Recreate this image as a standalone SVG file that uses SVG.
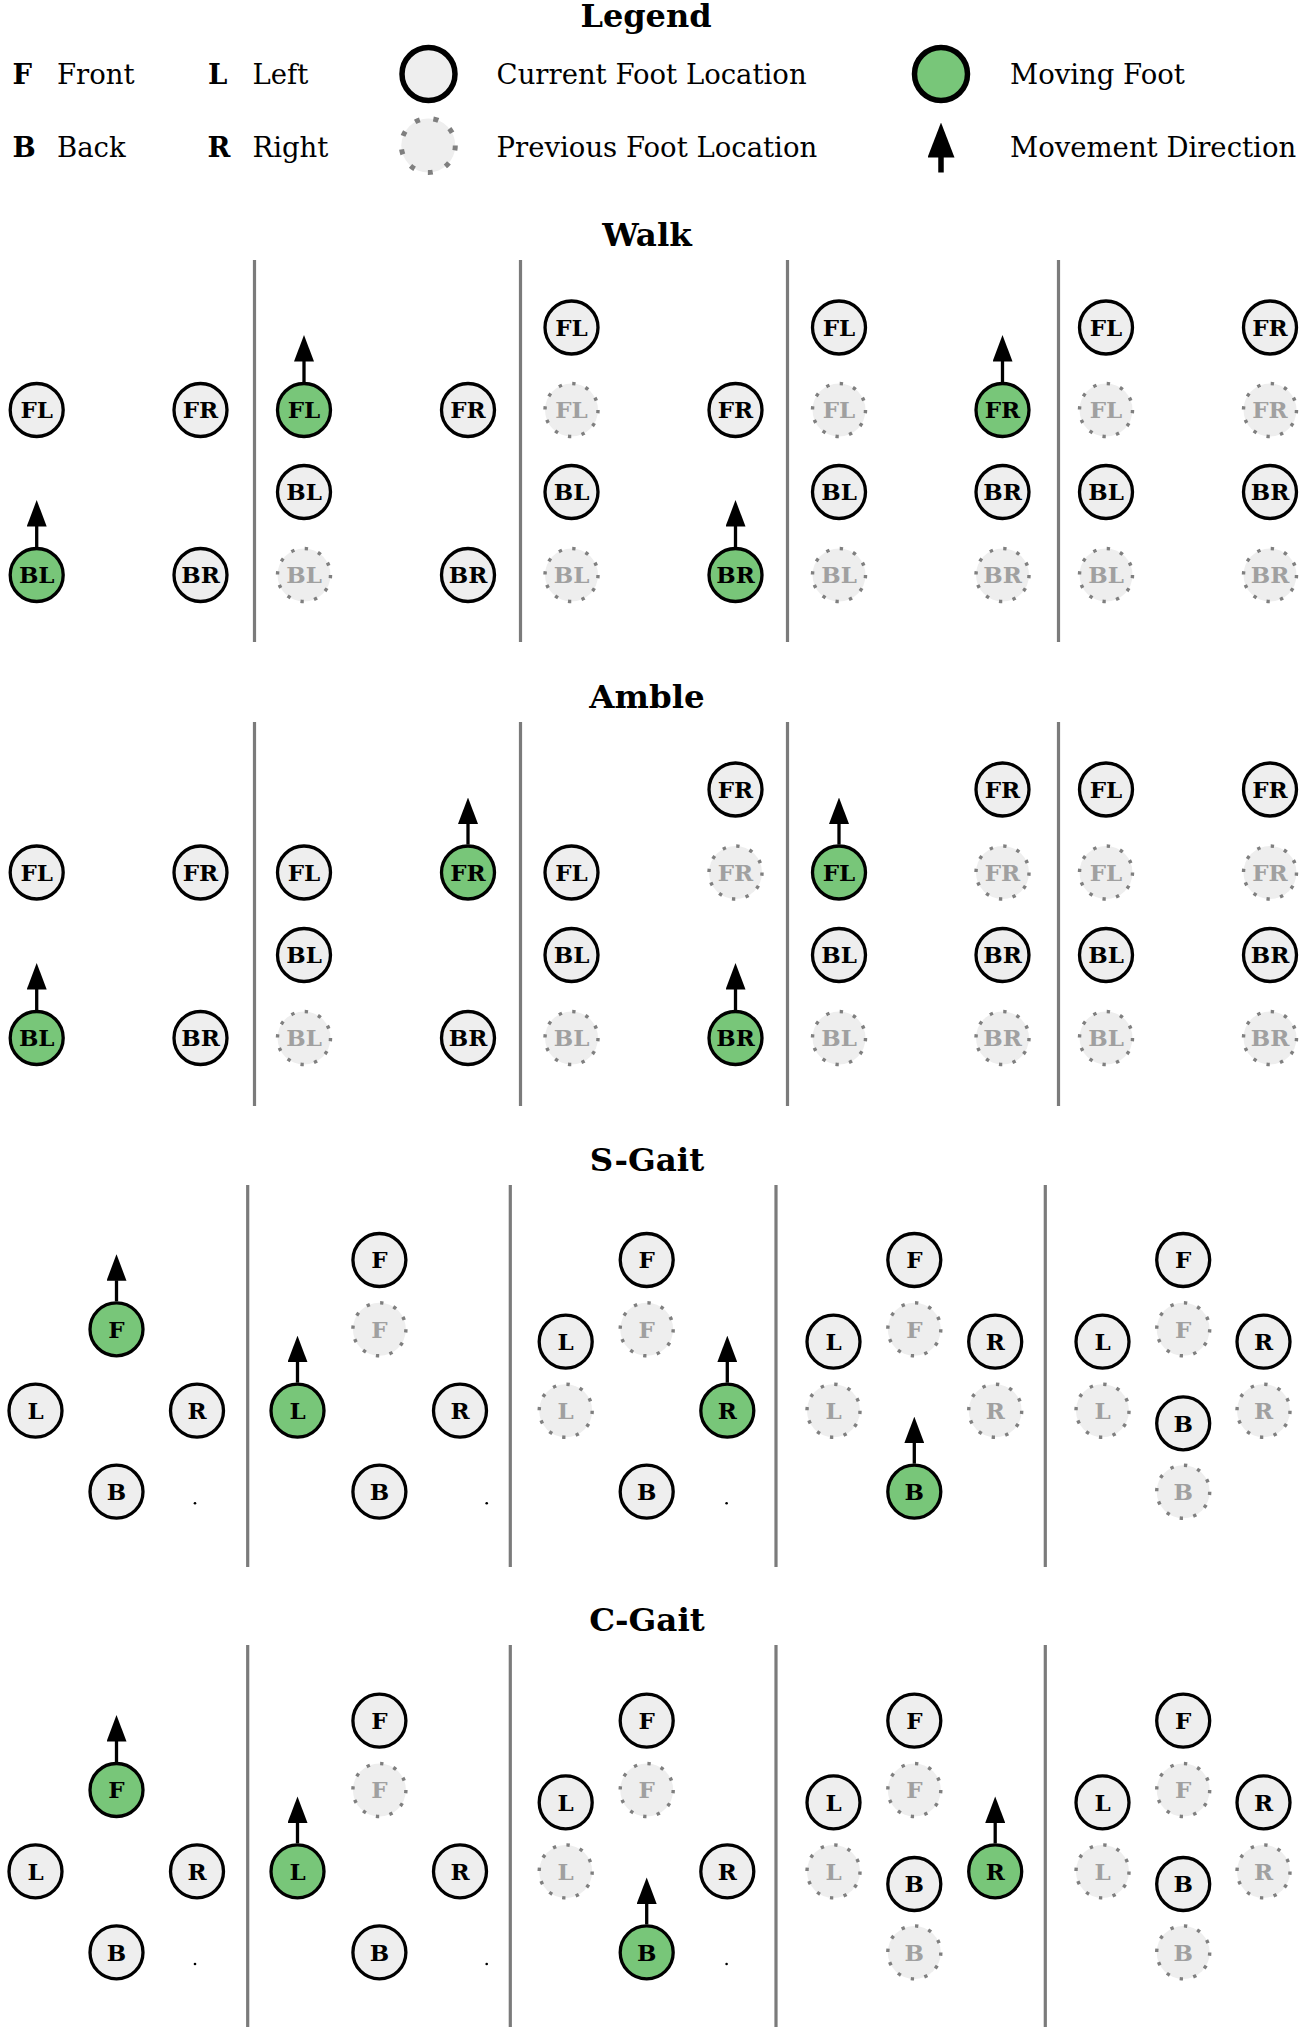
<svg xmlns="http://www.w3.org/2000/svg" width="1303" height="2031" viewBox="0 0 1303 2031">
<defs>
<style>
.cur{fill:#eeeeee;stroke:#000;stroke-width:3.3}
.mov{fill:#78c679;stroke:#000;stroke-width:3.3}
.prev{fill:#eeeeee;stroke:#7f7f7f;stroke-width:3.4;stroke-dasharray:3.4 10.47}
.lbl{font-family:"DejaVu Serif",serif;font-weight:bold;font-size:23px;text-anchor:middle;fill:#000;transform:translate(0px,0.8px)}
.lp{fill:#a0a0a0}
.title{font-family:"DejaVu Serif",serif;font-weight:bold;font-size:32.5px;text-anchor:middle;fill:#000}
.leg{font-family:"DejaVu Serif",serif;font-size:27.5px;fill:#000}
.legb{font-family:"DejaVu Serif",serif;font-weight:bold;font-size:27.5px;fill:#000}
.div{stroke:#7b7b7b;stroke-width:3.2}
.arr{stroke:#000;stroke-width:3.3;marker-end:url(#head)}
</style>
<marker id="head" viewBox="0 0 26.5 20" refX="0.5" refY="10" markerWidth="26.5" markerHeight="20" markerUnits="userSpaceOnUse" orient="auto">
<path d="M0,0 L26.5,10 L0,20 Z" fill="#000"/>
</marker>
<marker id="headL" viewBox="0 0 35 27" refX="0.5" refY="13.5" markerWidth="35" markerHeight="27" markerUnits="userSpaceOnUse" orient="auto">
<path d="M0,0 L35,13.5 L0,27 Z" fill="#000"/>
</marker>
</defs>
<rect width="1303" height="2031" fill="#fff"/>

<g id="legend">
<text class="title" x="646" y="27" style="font-size:32px">Legend</text>
<text class="legb" x="12.6" y="84">F</text><text class="leg" x="57" y="84">Front</text>
<text class="legb" x="12.6" y="156.5">B</text><text class="leg" x="57" y="156.5">Back</text>
<text class="legb" x="208" y="84">L</text><text class="leg" x="252.5" y="84">Left</text>
<text class="legb" x="207.5" y="156.5">R</text><text class="leg" x="252.5" y="156.5">Right</text>
<circle cx="428.5" cy="74" r="26.5" fill="#eeeeee" stroke="#000" stroke-width="5.5"/>
<text class="leg" x="496.6" y="84">Current Foot Location</text>
<circle cx="428.3" cy="145.5" r="27" fill="#eeeeee" stroke="#7f7f7f" stroke-width="5" stroke-dasharray="5 13.85"/>
<text class="leg" x="496.6" y="156.5">Previous Foot Location</text>
<circle cx="941" cy="74" r="26.5" fill="#78c679" stroke="#000" stroke-width="5.5"/>
<text class="leg" x="1010" y="84">Moving Foot</text>
<line x1="941" y1="172.5" x2="941" y2="157" stroke="#000" stroke-width="5.5" marker-end="url(#headL)"/>
<text class="leg" x="1010" y="156.5">Movement Direction</text>
</g>

<g id="titles">
<text class="title" x="647" y="246">Walk</text>
<text class="title" x="647" y="708">Amble</text>
<text class="title" x="647" y="1171">S-Gait</text>
<text class="title" x="647" y="1631">C-Gait</text>
</g>

<g id="dividers">
<line class="div" x1="254.5" y1="260" x2="254.5" y2="642"/>
<line class="div" x1="520.5" y1="260" x2="520.5" y2="642"/>
<line class="div" x1="787.5" y1="260" x2="787.5" y2="642"/>
<line class="div" x1="1058.5" y1="260" x2="1058.5" y2="642"/>
<line class="div" x1="254.5" y1="722" x2="254.5" y2="1106"/>
<line class="div" x1="520.5" y1="722" x2="520.5" y2="1106"/>
<line class="div" x1="787.5" y1="722" x2="787.5" y2="1106"/>
<line class="div" x1="1058.5" y1="722" x2="1058.5" y2="1106"/>
<line class="div" x1="247.7" y1="1185" x2="247.7" y2="1567"/>
<line class="div" x1="510.3" y1="1185" x2="510.3" y2="1567"/>
<line class="div" x1="776" y1="1185" x2="776" y2="1567"/>
<line class="div" x1="1045.3" y1="1185" x2="1045.3" y2="1567"/>
<line class="div" x1="247.7" y1="1645" x2="247.7" y2="2027"/>
<line class="div" x1="510.3" y1="1645" x2="510.3" y2="2027"/>
<line class="div" x1="776" y1="1645" x2="776" y2="2027"/>
<line class="div" x1="1045.3" y1="1645" x2="1045.3" y2="2027"/>
</g>

<!-- WALK -->
<g id="walk-1">
<g id="w1-FL"><circle class="cur" cx="36.7" cy="410" r="26.5"/><text class="lbl" x="36.7" y="417.6">FL</text></g>
<g id="w1-FR"><circle class="cur" cx="200.5" cy="410" r="26.5"/><text class="lbl" x="200.5" y="417.6">FR</text></g>
<g id="w1-BL"><circle class="mov" cx="36.7" cy="575" r="26.5"/><text class="lbl" x="36.7" y="582.6">BL</text></g>
<g id="w1-BR"><circle class="cur" cx="200.5" cy="575" r="26.5"/><text class="lbl" x="200.5" y="582.6">BR</text></g>
</g>
<g id="walk-2">
<g id="w2-BLp"><circle class="prev" cx="304" cy="575" r="26.5"/><text class="lbl lp" x="304" y="582.6">BL</text></g>
<g id="w2-FL"><circle class="mov" cx="304" cy="410" r="26.5"/><text class="lbl" x="304" y="417.6">FL</text></g>
<g id="w2-FR"><circle class="cur" cx="468" cy="410" r="26.5"/><text class="lbl" x="468" y="417.6">FR</text></g>
<g id="w2-BL"><circle class="cur" cx="304" cy="492" r="26.5"/><text class="lbl" x="304" y="499.6">BL</text></g>
<g id="w2-BR"><circle class="cur" cx="468" cy="575" r="26.5"/><text class="lbl" x="468" y="582.6">BR</text></g>
</g>
<g id="walk-3">
<g id="w3-FLp"><circle class="prev" cx="571.5" cy="410" r="26.5"/><text class="lbl lp" x="571.5" y="417.6">FL</text></g>
<g id="w3-BLp"><circle class="prev" cx="571.5" cy="575" r="26.5"/><text class="lbl lp" x="571.5" y="582.6">BL</text></g>
<g id="w3-FL"><circle class="cur" cx="571.5" cy="327.5" r="26.5"/><text class="lbl" x="571.5" y="335.1">FL</text></g>
<g id="w3-FR"><circle class="cur" cx="735.5" cy="410" r="26.5"/><text class="lbl" x="735.5" y="417.6">FR</text></g>
<g id="w3-BL"><circle class="cur" cx="571.5" cy="492" r="26.5"/><text class="lbl" x="571.5" y="499.6">BL</text></g>
<g id="w3-BR"><circle class="mov" cx="735.5" cy="575" r="26.5"/><text class="lbl" x="735.5" y="582.6">BR</text></g>
</g>
<g id="walk-4">
<g id="w4-FLp"><circle class="prev" cx="839" cy="410" r="26.5"/><text class="lbl lp" x="839" y="417.6">FL</text></g>
<g id="w4-BLp"><circle class="prev" cx="839" cy="575" r="26.5"/><text class="lbl lp" x="839" y="582.6">BL</text></g>
<g id="w4-BRp"><circle class="prev" cx="1002.5" cy="575" r="26.5"/><text class="lbl lp" x="1002.5" y="582.6">BR</text></g>
<g id="w4-FL"><circle class="cur" cx="839" cy="327.5" r="26.5"/><text class="lbl" x="839" y="335.1">FL</text></g>
<g id="w4-FR"><circle class="mov" cx="1002.5" cy="410" r="26.5"/><text class="lbl" x="1002.5" y="417.6">FR</text></g>
<g id="w4-BL"><circle class="cur" cx="839" cy="492" r="26.5"/><text class="lbl" x="839" y="499.6">BL</text></g>
<g id="w4-BR"><circle class="cur" cx="1002.5" cy="492" r="26.5"/><text class="lbl" x="1002.5" y="499.6">BR</text></g>
</g>
<g id="walk-5">
<g id="w5-FLp"><circle class="prev" cx="1106" cy="410" r="26.5"/><text class="lbl lp" x="1106" y="417.6">FL</text></g>
<g id="w5-FRp"><circle class="prev" cx="1270" cy="410" r="26.5"/><text class="lbl lp" x="1270" y="417.6">FR</text></g>
<g id="w5-BLp"><circle class="prev" cx="1106" cy="575" r="26.5"/><text class="lbl lp" x="1106" y="582.6">BL</text></g>
<g id="w5-BRp"><circle class="prev" cx="1270" cy="575" r="26.5"/><text class="lbl lp" x="1270" y="582.6">BR</text></g>
<g id="w5-FL"><circle class="cur" cx="1106" cy="327.5" r="26.5"/><text class="lbl" x="1106" y="335.1">FL</text></g>
<g id="w5-FR"><circle class="cur" cx="1270" cy="327.5" r="26.5"/><text class="lbl" x="1270" y="335.1">FR</text></g>
<g id="w5-BL"><circle class="cur" cx="1106" cy="492" r="26.5"/><text class="lbl" x="1106" y="499.6">BL</text></g>
<g id="w5-BR"><circle class="cur" cx="1270" cy="492" r="26.5"/><text class="lbl" x="1270" y="499.6">BR</text></g>
</g>

<!-- AMBLE -->
<g id="amble-1">
<g id="a1-FL"><circle class="cur" cx="36.7" cy="872.5" r="26.5"/><text class="lbl" x="36.7" y="880.1">FL</text></g>
<g id="a1-FR"><circle class="cur" cx="200.5" cy="872.5" r="26.5"/><text class="lbl" x="200.5" y="880.1">FR</text></g>
<g id="a1-BL"><circle class="mov" cx="36.7" cy="1038" r="26.5"/><text class="lbl" x="36.7" y="1045.6">BL</text></g>
<g id="a1-BR"><circle class="cur" cx="200.5" cy="1038" r="26.5"/><text class="lbl" x="200.5" y="1045.6">BR</text></g>
</g>
<g id="amble-2">
<g id="a2-BLp"><circle class="prev" cx="304" cy="1038" r="26.5"/><text class="lbl lp" x="304" y="1045.6">BL</text></g>
<g id="a2-FL"><circle class="cur" cx="304" cy="872.5" r="26.5"/><text class="lbl" x="304" y="880.1">FL</text></g>
<g id="a2-FR"><circle class="mov" cx="468" cy="872.5" r="26.5"/><text class="lbl" x="468" y="880.1">FR</text></g>
<g id="a2-BL"><circle class="cur" cx="304" cy="955" r="26.5"/><text class="lbl" x="304" y="962.6">BL</text></g>
<g id="a2-BR"><circle class="cur" cx="468" cy="1038" r="26.5"/><text class="lbl" x="468" y="1045.6">BR</text></g>
</g>
<g id="amble-3">
<g id="a3-FRp"><circle class="prev" cx="735.5" cy="872.5" r="26.5"/><text class="lbl lp" x="735.5" y="880.1">FR</text></g>
<g id="a3-BLp"><circle class="prev" cx="571.5" cy="1038" r="26.5"/><text class="lbl lp" x="571.5" y="1045.6">BL</text></g>
<g id="a3-FL"><circle class="cur" cx="571.5" cy="872.5" r="26.5"/><text class="lbl" x="571.5" y="880.1">FL</text></g>
<g id="a3-FR"><circle class="cur" cx="735.5" cy="789.5" r="26.5"/><text class="lbl" x="735.5" y="797.1">FR</text></g>
<g id="a3-BL"><circle class="cur" cx="571.5" cy="955" r="26.5"/><text class="lbl" x="571.5" y="962.6">BL</text></g>
<g id="a3-BR"><circle class="mov" cx="735.5" cy="1038" r="26.5"/><text class="lbl" x="735.5" y="1045.6">BR</text></g>
</g>
<g id="amble-4">
<g id="a4-FRp"><circle class="prev" cx="1002.5" cy="872.5" r="26.5"/><text class="lbl lp" x="1002.5" y="880.1">FR</text></g>
<g id="a4-BLp"><circle class="prev" cx="839" cy="1038" r="26.5"/><text class="lbl lp" x="839" y="1045.6">BL</text></g>
<g id="a4-BRp"><circle class="prev" cx="1002.5" cy="1038" r="26.5"/><text class="lbl lp" x="1002.5" y="1045.6">BR</text></g>
<g id="a4-FL"><circle class="mov" cx="839" cy="872.5" r="26.5"/><text class="lbl" x="839" y="880.1">FL</text></g>
<g id="a4-FR"><circle class="cur" cx="1002.5" cy="789.5" r="26.5"/><text class="lbl" x="1002.5" y="797.1">FR</text></g>
<g id="a4-BL"><circle class="cur" cx="839" cy="955" r="26.5"/><text class="lbl" x="839" y="962.6">BL</text></g>
<g id="a4-BR"><circle class="cur" cx="1002.5" cy="955" r="26.5"/><text class="lbl" x="1002.5" y="962.6">BR</text></g>
</g>
<g id="amble-5">
<g id="a5-FLp"><circle class="prev" cx="1106" cy="872.5" r="26.5"/><text class="lbl lp" x="1106" y="880.1">FL</text></g>
<g id="a5-FRp"><circle class="prev" cx="1270" cy="872.5" r="26.5"/><text class="lbl lp" x="1270" y="880.1">FR</text></g>
<g id="a5-BLp"><circle class="prev" cx="1106" cy="1038" r="26.5"/><text class="lbl lp" x="1106" y="1045.6">BL</text></g>
<g id="a5-BRp"><circle class="prev" cx="1270" cy="1038" r="26.5"/><text class="lbl lp" x="1270" y="1045.6">BR</text></g>
<g id="a5-FL"><circle class="cur" cx="1106" cy="789.5" r="26.5"/><text class="lbl" x="1106" y="797.1">FL</text></g>
<g id="a5-FR"><circle class="cur" cx="1270" cy="789.5" r="26.5"/><text class="lbl" x="1270" y="797.1">FR</text></g>
<g id="a5-BL"><circle class="cur" cx="1106" cy="955" r="26.5"/><text class="lbl" x="1106" y="962.6">BL</text></g>
<g id="a5-BR"><circle class="cur" cx="1270" cy="955" r="26.5"/><text class="lbl" x="1270" y="962.6">BR</text></g>
</g>

<!-- S-GAIT -->
<g id="sgait-1">
<g id="s1-F"><circle class="mov" cx="116.5" cy="1329.3" r="26.5"/><text class="lbl" x="116.5" y="1336.9">F</text></g>
<g id="s1-L"><circle class="cur" cx="35.5" cy="1410.7" r="26.5"/><text class="lbl" x="35.5" y="1418.3">L</text></g>
<g id="s1-R"><circle class="cur" cx="197" cy="1410.7" r="26.5"/><text class="lbl" x="197" y="1418.3">R</text></g>
<g id="s1-B"><circle class="cur" cx="116.5" cy="1491.7" r="26.5"/><text class="lbl" x="116.5" y="1499.3">B</text></g>
<circle id="s1-dot" cx="195" cy="1503.3" r="1.3" fill="#000"/>
</g>
<g id="sgait-2">
<g id="s2-Fp"><circle class="prev" cx="379.4" cy="1329.3" r="26.5"/><text class="lbl lp" x="379.4" y="1336.9">F</text></g>
<g id="s2-F"><circle class="cur" cx="379.4" cy="1260" r="26.5"/><text class="lbl" x="379.4" y="1267.6">F</text></g>
<g id="s2-L"><circle class="mov" cx="297.5" cy="1410.7" r="26.5"/><text class="lbl" x="297.5" y="1418.3">L</text></g>
<g id="s2-R"><circle class="cur" cx="460" cy="1410.7" r="26.5"/><text class="lbl" x="460" y="1418.3">R</text></g>
<g id="s2-B"><circle class="cur" cx="379.4" cy="1491.7" r="26.5"/><text class="lbl" x="379.4" y="1499.3">B</text></g>
<circle id="s2-dot" cx="486.7" cy="1503.3" r="1.3" fill="#000"/>
</g>
<g id="sgait-3">
<g id="s3-Fp"><circle class="prev" cx="646.7" cy="1329.3" r="26.5"/><text class="lbl lp" x="646.7" y="1336.9">F</text></g>
<g id="s3-Lp"><circle class="prev" cx="565.7" cy="1410.7" r="26.5"/><text class="lbl lp" x="565.7" y="1418.3">L</text></g>
<g id="s3-F"><circle class="cur" cx="646.7" cy="1260" r="26.5"/><text class="lbl" x="646.7" y="1267.6">F</text></g>
<g id="s3-L"><circle class="cur" cx="565.7" cy="1341.7" r="26.5"/><text class="lbl" x="565.7" y="1349.3">L</text></g>
<g id="s3-R"><circle class="mov" cx="727.3" cy="1410.7" r="26.5"/><text class="lbl" x="727.3" y="1418.3">R</text></g>
<g id="s3-B"><circle class="cur" cx="646.7" cy="1491.7" r="26.5"/><text class="lbl" x="646.7" y="1499.3">B</text></g>
<circle id="s3-dot" cx="726.6" cy="1503.3" r="1.3" fill="#000"/>
</g>
<g id="sgait-4">
<g id="s4-Fp"><circle class="prev" cx="914.3" cy="1329.3" r="26.5"/><text class="lbl lp" x="914.3" y="1336.9">F</text></g>
<g id="s4-Lp"><circle class="prev" cx="833.5" cy="1410.7" r="26.5"/><text class="lbl lp" x="833.5" y="1418.3">L</text></g>
<g id="s4-Rp"><circle class="prev" cx="995.2" cy="1410.7" r="26.5"/><text class="lbl lp" x="995.2" y="1418.3">R</text></g>
<g id="s4-F"><circle class="cur" cx="914.3" cy="1260" r="26.5"/><text class="lbl" x="914.3" y="1267.6">F</text></g>
<g id="s4-L"><circle class="cur" cx="833.5" cy="1341.7" r="26.5"/><text class="lbl" x="833.5" y="1349.3">L</text></g>
<g id="s4-R"><circle class="cur" cx="995.2" cy="1341.7" r="26.5"/><text class="lbl" x="995.2" y="1349.3">R</text></g>
<g id="s4-B"><circle class="mov" cx="914.3" cy="1491.7" r="26.5"/><text class="lbl" x="914.3" y="1499.3">B</text></g>
</g>
<g id="sgait-5">
<g id="s5-Fp"><circle class="prev" cx="1183.2" cy="1329.3" r="26.5"/><text class="lbl lp" x="1183.2" y="1336.9">F</text></g>
<g id="s5-Lp"><circle class="prev" cx="1102.5" cy="1410.7" r="26.5"/><text class="lbl lp" x="1102.5" y="1418.3">L</text></g>
<g id="s5-Rp"><circle class="prev" cx="1263.5" cy="1410.7" r="26.5"/><text class="lbl lp" x="1263.5" y="1418.3">R</text></g>
<g id="s5-Bp"><circle class="prev" cx="1183.2" cy="1491.7" r="26.5"/><text class="lbl lp" x="1183.2" y="1499.3">B</text></g>
<g id="s5-F"><circle class="cur" cx="1183.2" cy="1260" r="26.5"/><text class="lbl" x="1183.2" y="1267.6">F</text></g>
<g id="s5-L"><circle class="cur" cx="1102.5" cy="1341.7" r="26.5"/><text class="lbl" x="1102.5" y="1349.3">L</text></g>
<g id="s5-R"><circle class="cur" cx="1263.5" cy="1341.7" r="26.5"/><text class="lbl" x="1263.5" y="1349.3">R</text></g>
<g id="s5-B"><circle class="cur" cx="1183.2" cy="1423.3" r="26.5"/><text class="lbl" x="1183.2" y="1430.9">B</text></g>
</g>

<!-- C-GAIT -->
<g id="cgait-1">
<g id="c1-F"><circle class="mov" cx="116.5" cy="1790" r="26.5"/><text class="lbl" x="116.5" y="1797.6">F</text></g>
<g id="c1-L"><circle class="cur" cx="35.5" cy="1871.4" r="26.5"/><text class="lbl" x="35.5" y="1879">L</text></g>
<g id="c1-R"><circle class="cur" cx="197" cy="1871.4" r="26.5"/><text class="lbl" x="197" y="1879">R</text></g>
<g id="c1-B"><circle class="cur" cx="116.5" cy="1952.4" r="26.5"/><text class="lbl" x="116.5" y="1960">B</text></g>
<circle id="c1-dot" cx="195" cy="1964" r="1.3" fill="#000"/>
</g>
<g id="cgait-2">
<g id="c2-Fp"><circle class="prev" cx="379.4" cy="1790" r="26.5"/><text class="lbl lp" x="379.4" y="1797.6">F</text></g>
<g id="c2-F"><circle class="cur" cx="379.4" cy="1720.7" r="26.5"/><text class="lbl" x="379.4" y="1728.3">F</text></g>
<g id="c2-L"><circle class="mov" cx="297.5" cy="1871.4" r="26.5"/><text class="lbl" x="297.5" y="1879">L</text></g>
<g id="c2-R"><circle class="cur" cx="460" cy="1871.4" r="26.5"/><text class="lbl" x="460" y="1879">R</text></g>
<g id="c2-B"><circle class="cur" cx="379.4" cy="1952.4" r="26.5"/><text class="lbl" x="379.4" y="1960">B</text></g>
<circle id="c2-dot" cx="486.7" cy="1964" r="1.3" fill="#000"/>
</g>
<g id="cgait-3">
<g id="c3-Fp"><circle class="prev" cx="646.7" cy="1790" r="26.5"/><text class="lbl lp" x="646.7" y="1797.6">F</text></g>
<g id="c3-Lp"><circle class="prev" cx="565.7" cy="1871.4" r="26.5"/><text class="lbl lp" x="565.7" y="1879">L</text></g>
<g id="c3-F"><circle class="cur" cx="646.7" cy="1720.7" r="26.5"/><text class="lbl" x="646.7" y="1728.3">F</text></g>
<g id="c3-L"><circle class="cur" cx="565.7" cy="1802.4" r="26.5"/><text class="lbl" x="565.7" y="1810">L</text></g>
<g id="c3-R"><circle class="cur" cx="727.3" cy="1871.4" r="26.5"/><text class="lbl" x="727.3" y="1879">R</text></g>
<g id="c3-B"><circle class="mov" cx="646.7" cy="1952.4" r="26.5"/><text class="lbl" x="646.7" y="1960">B</text></g>
<circle id="c3-dot" cx="726.6" cy="1964" r="1.3" fill="#000"/>
</g>
<g id="cgait-4">
<g id="c4-Fp"><circle class="prev" cx="914.3" cy="1790" r="26.5"/><text class="lbl lp" x="914.3" y="1797.6">F</text></g>
<g id="c4-Lp"><circle class="prev" cx="833.5" cy="1871.4" r="26.5"/><text class="lbl lp" x="833.5" y="1879">L</text></g>
<g id="c4-Bp"><circle class="prev" cx="914.3" cy="1952.4" r="26.5"/><text class="lbl lp" x="914.3" y="1960">B</text></g>
<g id="c4-F"><circle class="cur" cx="914.3" cy="1720.7" r="26.5"/><text class="lbl" x="914.3" y="1728.3">F</text></g>
<g id="c4-L"><circle class="cur" cx="833.5" cy="1802.4" r="26.5"/><text class="lbl" x="833.5" y="1810">L</text></g>
<g id="c4-B"><circle class="cur" cx="914.3" cy="1884" r="26.5"/><text class="lbl" x="914.3" y="1891.6">B</text></g>
<g id="c4-R"><circle class="mov" cx="995.2" cy="1871.4" r="26.5"/><text class="lbl" x="995.2" y="1879">R</text></g>
</g>
<g id="cgait-5">
<g id="c5-Fp"><circle class="prev" cx="1183.2" cy="1790" r="26.5"/><text class="lbl lp" x="1183.2" y="1797.6">F</text></g>
<g id="c5-Lp"><circle class="prev" cx="1102.5" cy="1871.4" r="26.5"/><text class="lbl lp" x="1102.5" y="1879">L</text></g>
<g id="c5-Rp"><circle class="prev" cx="1263.5" cy="1871.4" r="26.5"/><text class="lbl lp" x="1263.5" y="1879">R</text></g>
<g id="c5-Bp"><circle class="prev" cx="1183.2" cy="1952.4" r="26.5"/><text class="lbl lp" x="1183.2" y="1960">B</text></g>
<g id="c5-F"><circle class="cur" cx="1183.2" cy="1720.7" r="26.5"/><text class="lbl" x="1183.2" y="1728.3">F</text></g>
<g id="c5-L"><circle class="cur" cx="1102.5" cy="1802.4" r="26.5"/><text class="lbl" x="1102.5" y="1810">L</text></g>
<g id="c5-R"><circle class="cur" cx="1263.5" cy="1802.4" r="26.5"/><text class="lbl" x="1263.5" y="1810">R</text></g>
<g id="c5-B"><circle class="cur" cx="1183.2" cy="1884" r="26.5"/><text class="lbl" x="1183.2" y="1891.6">B</text></g>
</g>

<g id="connectors">
<line class="arr" x1="36.7" y1="547" x2="36.7" y2="526"/>
<line class="arr" x1="304" y1="382" x2="304" y2="361"/>
<line class="arr" x1="735.5" y1="547" x2="735.5" y2="526"/>
<line class="arr" x1="1002.5" y1="382" x2="1002.5" y2="361"/>
<line class="arr" x1="36.7" y1="1010" x2="36.7" y2="989"/>
<line class="arr" x1="468" y1="844.5" x2="468" y2="823.5"/>
<line class="arr" x1="735.5" y1="1010" x2="735.5" y2="989"/>
<line class="arr" x1="839" y1="844.5" x2="839" y2="823.5"/>
<line class="arr" x1="116.5" y1="1301.3" x2="116.5" y2="1280.3"/>
<line class="arr" x1="297.5" y1="1382.7" x2="297.5" y2="1361.7"/>
<line class="arr" x1="727.3" y1="1382.7" x2="727.3" y2="1361.7"/>
<line class="arr" x1="914.3" y1="1463.7" x2="914.3" y2="1442.7"/>
<line class="arr" x1="116.5" y1="1762" x2="116.5" y2="1741"/>
<line class="arr" x1="297.5" y1="1843.4" x2="297.5" y2="1822.4"/>
<line class="arr" x1="646.7" y1="1924.4" x2="646.7" y2="1903.4"/>
<line class="arr" x1="995.2" y1="1843.4" x2="995.2" y2="1822.4"/>
</g>
</svg>
